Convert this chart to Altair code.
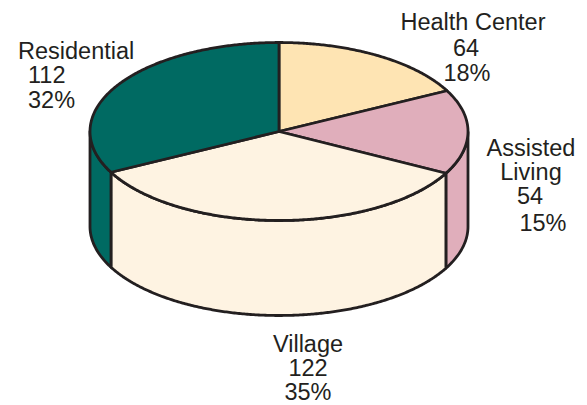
import math
import altair as alt
import pandas as pd

categories = ["Health Center", "Assisted Living", "Village", "Residential"]
values = [64, 54, 122, 112]
percents = ["18%", "15%", "35%", "32%"]
colors = ["#fee4b3", "#e0aebb", "#fef3e2", "#006a62"]

W, H = 571, 397
CX, CY, RX, RY, DEPTH = 279, 131.5, 189, 89, 95
INK = "#231f20"
SEAM_SHIFT = 2.7  # the inner seams sit a little before their exact share in the drawing

total = sum(values)
edges = [0]
for v in values:
    edges.append(edges[-1] + v / total * 360)
edges = [edges[0]] + [e - SEAM_SHIFT for e in edges[1:-1]] + [edges[-1]]


def pt(a, dy=0):
    r = math.radians(a)
    return (CX + RX * math.sin(r), CY - RY * math.cos(r) + dy)


def arc(a0, a1, dy=0):
    n = max(2, int(abs(a1 - a0) * 2))
    return [pt(a0 + (a1 - a0) * i / n, dy) for i in range(n + 1)]


x_scale = alt.Scale(domain=[8, 8 + W], range=[0, W], nice=False, zero=False)
y_scale = alt.Scale(domain=[8, 8 + H], range=[0, H], nice=False, zero=False)


def shape(points, color):
    pts = points + [points[0]]
    df = pd.DataFrame({"x": [p[0] for p in pts], "y": [p[1] for p in pts], "o": range(len(pts))})
    return alt.Chart(df).mark_line(
        fill=color, stroke=INK, strokeWidth=2.8, strokeJoin="round", clip=False
    ).encode(
        x=alt.X("x:Q", scale=x_scale, axis=None),
        y=alt.Y("y:Q", scale=y_scale, axis=None),
        order="o:Q",
    )


layers = []
# side walls: visible part of the rim is the lower half (90..270 degrees)
for i, c in enumerate(colors):
    a0, a1 = max(edges[i], 90), min(edges[i + 1], 270)
    if a1 > a0:
        layers.append(shape(arc(a0, a1) + arc(a1, a0, DEPTH), c))
# top slices
for i, c in enumerate(colors):
    layers.append(shape([(CX, CY)] + arc(edges[i], edges[i + 1]), c))

label_rows = [
    (categories[0], 473, 23, "center"),
    (str(values[0]), 466, 49, "center"),
    (percents[0], 467, 74, "center"),
    ("Assisted", 531, 149, "center"),
    ("Living", 531, 173, "center"),
    (str(values[1]), 530, 197, "center"),
    (percents[1], 543, 224, "center"),
    (categories[2], 308, 344.5, "center"),
    (str(values[2]), 308, 369, "center"),
    (percents[2], 308, 393, "center"),
    (categories[3], 18, 51.5, "left"),
    (str(values[3]), 28, 76, "left"),
    (percents[3], 28, 101, "left"),
]
for t, x, y, al in label_rows:
    df = pd.DataFrame({"x": [x], "y": [y], "t": [t]})
    layers.append(
        alt.Chart(df).mark_text(
            font="Liberation Sans", fontSize=23.5, color=INK, align=al, baseline="middle"
        ).encode(
            x=alt.X("x:Q", scale=x_scale, axis=None),
            y=alt.Y("y:Q", scale=y_scale, axis=None),
            text="t:N",
        )
    )

chart = alt.layer(*layers).properties(
    width=W, height=H, padding=0, autosize=alt.AutoSizeParams(type="none"), background="white"
).configure_view(stroke=None)

chart.save("out.html", embed_options={"renderer": "svg", "actions": False})
